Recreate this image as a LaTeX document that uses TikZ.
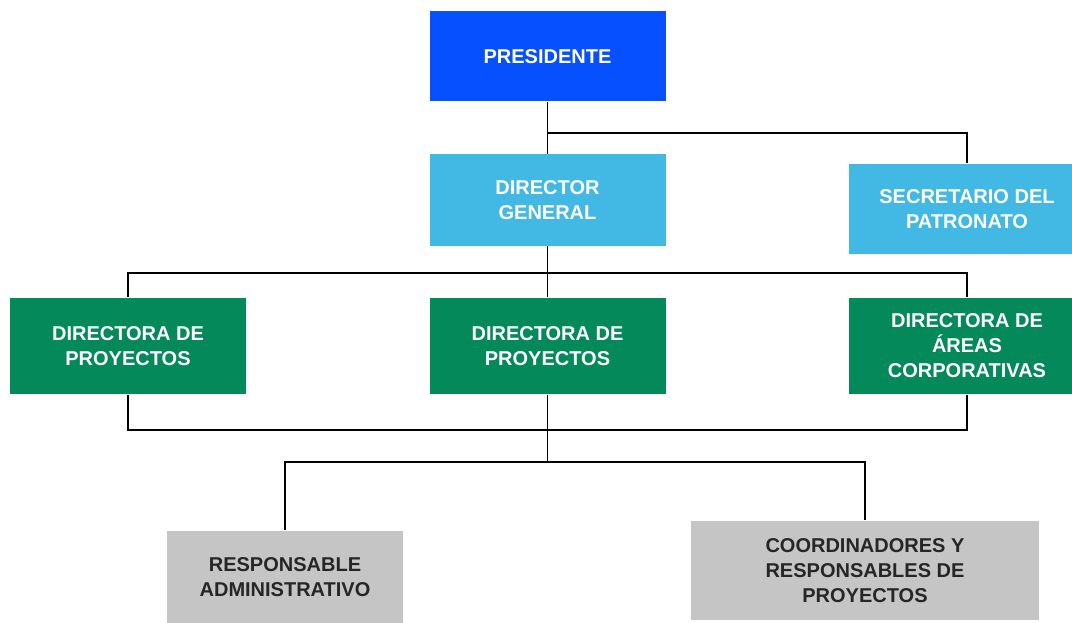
\documentclass[tikz,border=0pt]{standalone}
\usepackage{fontspec}
\setmainfont{Liberation Sans}
\definecolor{azul}{HTML}{0650FF}
\definecolor{celeste}{HTML}{42B9E5}
\definecolor{verde}{HTML}{03895A}
\definecolor{gris}{HTML}{C5C5C5}
\begin{document}
\begin{tikzpicture}[x=1pt,y=-1pt,line width=1.6pt]
\tikzstyle{cargo}=[rectangle,fill=#1,draw=none,minimum width=236pt,inner sep=0pt,align=center,text=white,font=\fontsize{20}{25}\selectfont\bfseries]
\tikzstyle{apoyo}=[cargo=gris,text=black!85]
\useasboundingbox (0,0) rectangle (1072,623);

\node[cargo=azul,minimum height=90pt](pres) at (547.5,56.5) {PRESIDENTE};
\node[cargo=celeste,minimum height=91pt](dg) at (547.5,200) {DIRECTOR\\GENERAL};
\node[cargo=celeste,minimum height=90pt](sec) at (967,209) {SECRETARIO DEL\\PATRONATO};
\node[cargo=verde,minimum height=96pt](dp1) at (128,346) {DIRECTORA DE\\PROYECTOS};
\node[cargo=verde,minimum height=96pt](dp2) at (547.5,346) {DIRECTORA DE\\PROYECTOS};
\node[cargo=verde,minimum height=96pt](dac) at (967,346) {DIRECTORA DE\\ÁREAS\\CORPORATIVAS};
\node[apoyo,minimum height=92pt](ra) at (285,577) {RESPONSABLE\\ADMINISTRATIVO};
\node[apoyo,minimum width=348pt,minimum height=99pt](coord) at (865,570.5) {COORDINADORES Y\\RESPONSABLES DE\\PROYECTOS};

\coordinate (j1) at (547.5,133);
\coordinate (j2) at (547.5,273);
\coordinate (j3) at (547.5,430);
\coordinate (j4) at (547.5,462);

\draw (pres) -- (dg);
\draw (j1) -| (sec);
\draw (dg) -- (dp2);
\draw (dp1) |- (j2) -| (dac);
\draw (dp1) |- (j3) -| (dac);
\draw (dp2) -- (j4);
\draw (ra) |- (j4) -| (coord);
\end{tikzpicture}
\end{document}
